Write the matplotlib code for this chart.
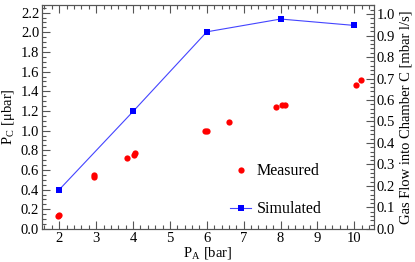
import matplotlib
matplotlib.use("Agg")
import matplotlib.pyplot as plt
from matplotlib.ticker import MultipleLocator

plt.rcParams['font.family'] = ['Liberation Serif', 'DejaVu Serif']
plt.rcParams['mathtext.fontset'] = 'stix'

meas_x = [1.97, 2.0, 2.93, 2.95, 3.85, 4.02, 4.05, 5.94, 6.0, 6.59, 7.88, 8.05, 8.12, 10.04, 10.18]
meas_y = [0.13, 0.14, 0.53, 0.545, 0.72, 0.75, 0.77, 1.0, 1.0, 1.09, 1.245, 1.26, 1.26, 1.46, 1.52]
sim_x = [2, 4, 6, 8, 10]
sim_y = [0.40, 1.195, 2.005, 2.135, 2.07]

fig = plt.figure(figsize=(4.15, 2.62), dpi=100)
ax = fig.add_axes([0.101, 0.126, 0.80, 0.855])
ax.plot(meas_x, meas_y, 'o', color='#ff0000', markersize=4.5, markeredgewidth=0, label='Measured')
ax.plot(sim_x, sim_y, '-s', color='#4444ff', markerfacecolor='#0000ff', markersize=4.2,
        linewidth=0.8, markeredgewidth=0, label='Simulated')

ax.set_xlim(1.53, 10.53)
ax.set_ylim(0, 2.278)
ax.xaxis.set_major_locator(MultipleLocator(1))
ax.xaxis.set_minor_locator(MultipleLocator(0.2))
ax.yaxis.set_major_locator(MultipleLocator(0.2))
ax.yaxis.set_minor_locator(MultipleLocator(0.05))
ax.yaxis.set_major_formatter(matplotlib.ticker.FormatStrFormatter('%.1f'))
ax.tick_params(which='both', direction='in', top=True, right=False, labelsize=10.5, colors='#555555',
               labelcolor='black', pad=2)
ax.tick_params(which='major', length=6, width=0.8)
ax.tick_params(which='minor', length=3, width=0.8)
for s in ax.spines.values():
    s.set_color('#555555')
ax.set_xlabel(r'P$_\mathregular{A}$ [bar]', fontsize=10.5, labelpad=0)
ax.set_ylabel(r'P$_\mathregular{C}$ [$\mathregular{\mu}$bar]', fontsize=10.5, labelpad=3)

ax2 = ax.twinx()
ax2.set_ylim(0, 1.042)
ax2.yaxis.set_major_locator(MultipleLocator(0.1))
ax2.yaxis.set_minor_locator(MultipleLocator(0.02))
ax2.yaxis.set_major_formatter(matplotlib.ticker.FormatStrFormatter('%.1f'))
ax2.tick_params(which='both', direction='in', labelsize=10.5, colors='#555555', labelcolor='black', pad=2)
ax2.tick_params(which='major', length=6, width=0.8)
ax2.tick_params(which='minor', length=3, width=0.8)
for s in ax2.spines.values():
    s.set_color('#555555')
ax2.set_ylabel('Gas Flow into Chamber C [mbar l/s]', fontsize=10.5, labelpad=3)

ax.legend(loc='lower right', bbox_to_anchor=(0.885, -0.012), frameon=False, fontsize=11.5,
          handlelength=1.3, labelspacing=1.38, handletextpad=0.35, numpoints=1)

fig.savefig('out.png', dpi=100)
